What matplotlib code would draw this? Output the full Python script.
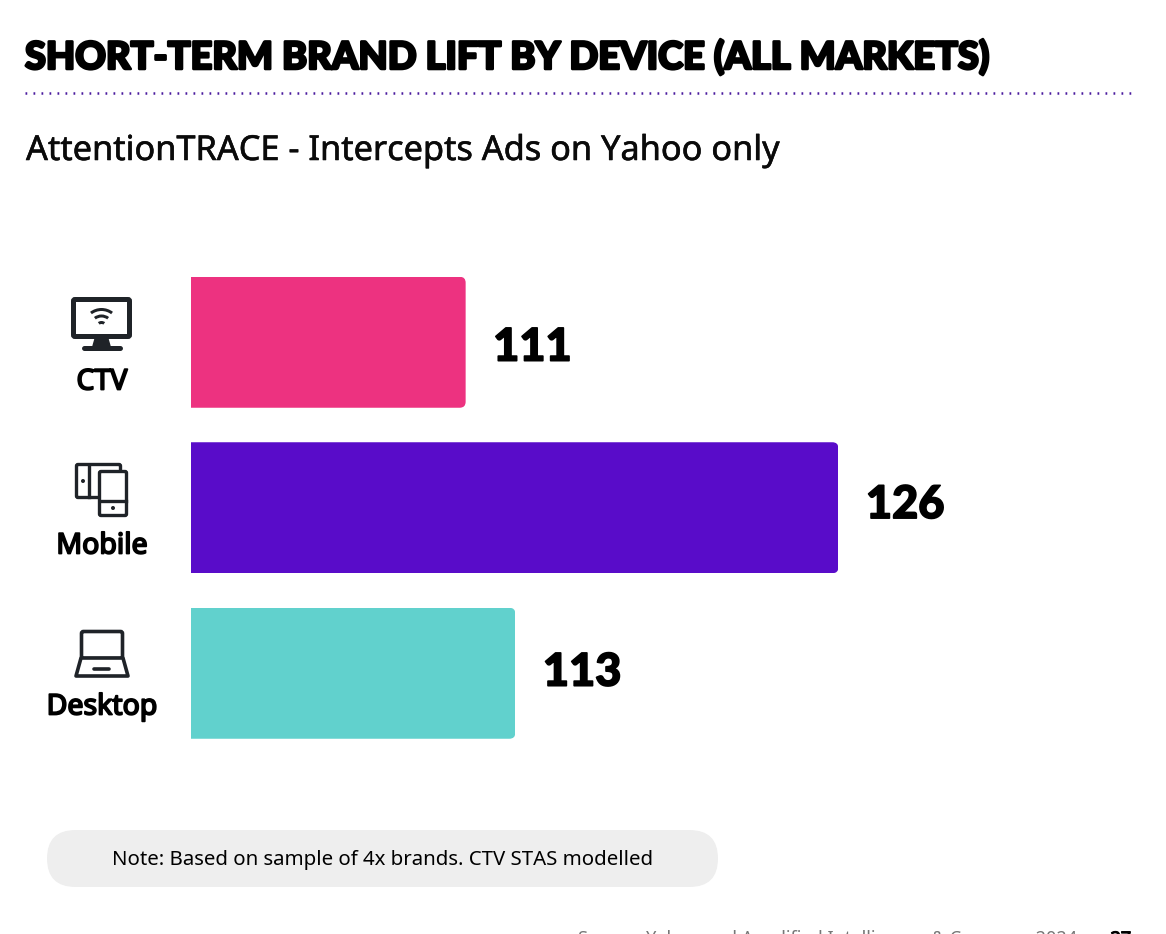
import matplotlib
matplotlib.use("Agg")
import matplotlib.pyplot as plt
from matplotlib.patches import FancyBboxPatch, Wedge, Circle, Polygon
import matplotlib.patheffects as pe

categories = ["CTV", "Mobile", "Desktop"]
values = [111, 126, 113]
colors = ["#ED3280", "#590CC9", "#61D1CD"]
title = "SHORT-TERM BRAND LIFT BY DEVICE (ALL MARKETS)"
subtitle = "AttentionTRACE - Intercepts Ads on Yahoo only"
note = "Note: Based on sample of 4x brands. CTV STAS modelled"
source = "Source: Yahoo and Amplified Intelligence & Company 2024"
page = "37"
axis_start = 99.948

W, H = 1166, 934
fig = plt.figure(figsize=(W / 100, H / 100), dpi=100, facecolor="white")

L, R, T, B = 191, 1140, 259.5, 756
ax = fig.add_axes([L / W, 1 - B / H, (R - L) / W, (B - T) / H])
px_per_unit = 24.85
ax.set_xlim(axis_start, axis_start + (R - L) / px_per_unit)
ax.set_ylim(2.5, -0.5)
ax.axis("off")
px_per_cat = (B - T) / 3
bars = ax.barh(range(3), values, height=131 / px_per_cat, color=colors)
rad = 6 / px_per_unit
label_dy = [-3.9, 1.9, 0.4]
for i, (bar, v) in enumerate(zip(bars, values)):
    h = bar.get_height()
    clip = FancyBboxPatch((axis_start - 1, i - h / 2), v - axis_start + 1, h,
                          boxstyle=f"round,pad=0,rounding_size={rad}",
                          mutation_aspect=(6 / px_per_cat) / rad,
                          transform=ax.transData, fill=False, edgecolor="none")
    ax.add_patch(clip)
    bar.set_clip_path(clip)
    ax.annotate(str(v), (v, i), xytext=(27.5 * 0.72, label_dy[i]), textcoords="offset points",
                va="center", ha="left", fontsize=32.5, family="Lato", weight=900,
                color="black", path_effects=[pe.withStroke(linewidth=1.2, foreground="black")])

ov = fig.add_axes([0, 0, 1, 1])
ov.set_xlim(0, W)
ov.set_ylim(H, 0)
ov.axis("off")
ov.patch.set_alpha(0)

ov.text(25, 57, title, fontsize=27.3, family="Lato", weight=900, va="center", ha="left",
        color="black", path_effects=[pe.withStroke(linewidth=1.9, foreground="black")])
ov.plot([25, 1132], [93, 93], color="#4A1A9E", lw=1.8, ls=(0, (0.7, 2.5)))
ov.text(26, 151, subtitle, fontsize=24.7, family="Noto Sans", va="center", ha="left", color="#0A0A0A",
        path_effects=[pe.withStroke(linewidth=0.4, foreground="#0A0A0A")])

for name, y in zip(categories, [382, 546, 707]):
    ov.text(102, y, name, fontsize=20.5, family="Noto Sans", va="center", ha="center", color="black",
            path_effects=[pe.withStroke(linewidth=1.3, foreground="black")])

ic = "#1F2328"
# TV
ov.add_patch(FancyBboxPatch((73.5, 299.5), 56, 37, boxstyle="round,pad=0,rounding_size=1.5",
                            fc="white", ec=ic, lw=3.6))
ov.add_patch(Polygon([[95, 339], [108, 339], [110, 346], [93, 346]], fc=ic, ec=ic))
ov.plot([84, 120], [347.5, 347.5], color=ic, lw=3.6, solid_capstyle="round")
for r in [6, 12.5, 19]:
    ov.add_patch(Wedge((101.5, 327), r, 233, 307, width=3, fc=ic, ec="none"))
# Mobile
ov.add_patch(FancyBboxPatch((76.5, 464.5), 44, 33, boxstyle="round,pad=0,rounding_size=1.5",
                            fc="white", ec=ic, lw=2.4))
ov.plot([89, 89], [465, 497], color=ic, lw=2.4)
ov.add_patch(Circle((83, 481), 2, fc=ic, ec="none"))
ov.add_patch(FancyBboxPatch((99.5, 471.5), 27, 44, boxstyle="round,pad=0,rounding_size=1.5",
                            fc="white", ec=ic, lw=2.4))
ov.plot([100, 126], [501, 501], color=ic, lw=2.4)
ov.add_patch(Circle((113, 508), 2, fc=ic, ec="none"))
# Laptop
ov.add_patch(FancyBboxPatch((81.5, 631.5), 41, 27, boxstyle="round,pad=0,rounding_size=2",
                            fc="white", ec=ic, lw=2.6))
ov.add_patch(Polygon([[81, 658], [123, 658], [128, 676], [76, 676]], closed=True, fc="white",
                     ec=ic, lw=2.6, joinstyle="round"))
ov.plot([94, 109], [669, 669], color=ic, lw=2.6, solid_capstyle="round")

ov.add_patch(FancyBboxPatch((47, 830), 671, 57, boxstyle="round,pad=0,rounding_size=28.5",
                            fc="#EEEEEE", ec="none"))
ov.text(383, 860, note, fontsize=14.7, family="Noto Sans", va="center", ha="center", color="black")

# footer, cut off by the page edge as in the reference
ov.text(578, 930.5, source, fontsize=13, family="Noto Sans", va="top", ha="left", color="#777777")
ov.text(1131, 930.5, page, fontsize=13, family="Noto Sans", va="top", ha="right", color="black",
        path_effects=[pe.withStroke(linewidth=0.8, foreground="black")])

fig.savefig("out.png", dpi=100)
